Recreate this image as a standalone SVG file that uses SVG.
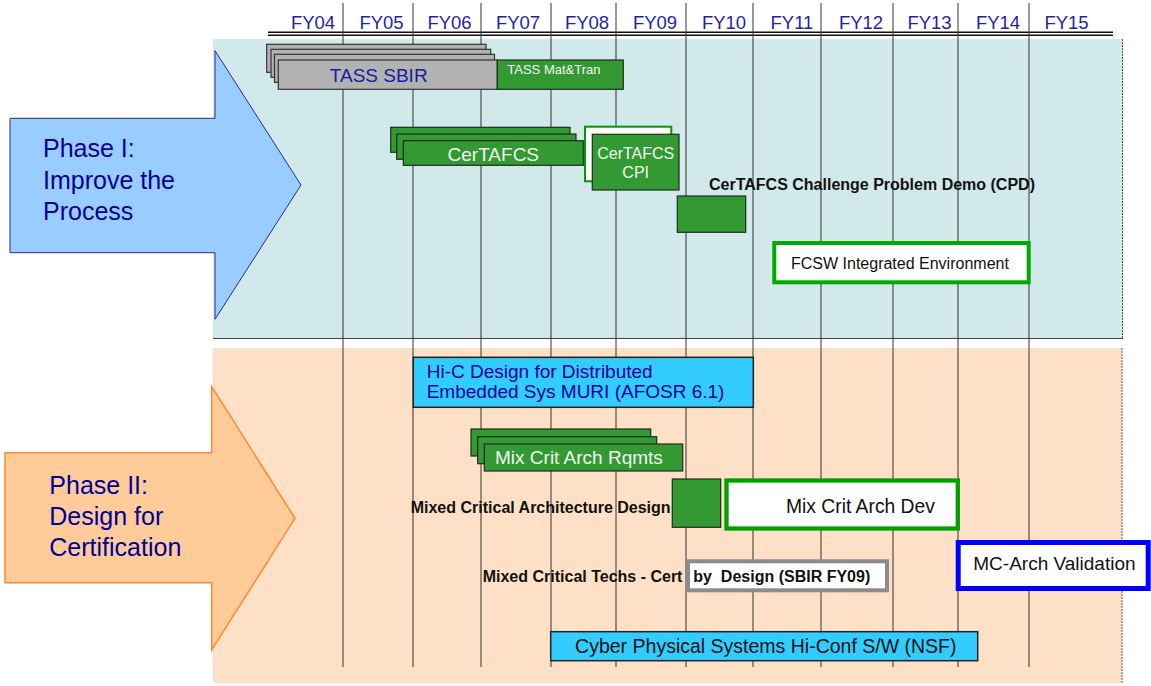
<svg xmlns="http://www.w3.org/2000/svg" width="1151" height="686" viewBox="0 0 1151 686">
<style>
text{font-family:"Liberation Sans",Arial,sans-serif}
.fy{font-size:18.5px;fill:#1F1FA8;text-anchor:middle}
.grid line{stroke:#333;stroke-width:1}
.green{fill:#339933;stroke:#1C2E1C;stroke-width:1.2}
.gray{fill:#B2B2B2;stroke:#333;stroke-width:1.2}
.cyan{fill:#33CCFF;stroke:#222;stroke-width:1.5}
.wt{fill:#F2F6F2}
.bold{font-weight:bold;font-size:16px;fill:#111}
.phase{font-size:25px;fill:#000099}
</style>
<rect x="0" y="0" width="1151" height="686" fill="#FFFFFF"/>
<g id="panels">
<rect x="213" y="39" width="910" height="300" fill="#D1E9EA"/>
<line x1="1122.5" y1="39" x2="1122.5" y2="339" stroke="#555" stroke-width="1" stroke-dasharray="2 1"/>
<line x1="213" y1="338.5" x2="1123" y2="338.5" stroke="#444" stroke-width="1"/>
<rect x="213" y="348" width="909" height="335" fill="#FDE0C5"/>
<line x1="1122" y1="348" x2="1122" y2="683" stroke="#555" stroke-width="1" stroke-dasharray="2 1"/>
</g>
<g id="header">
<line x1="268" y1="32.3" x2="1113" y2="32.3" stroke="#111" stroke-width="1.6"/>
<line x1="268" y1="35.2" x2="1113" y2="35.2" stroke="#111" stroke-width="1.4"/>
<text class="fy" x="313" y="28.5">FY04</text>
<text class="fy" x="381.5" y="28.5">FY05</text>
<text class="fy" x="449.5" y="28.5">FY06</text>
<text class="fy" x="518" y="28.5">FY07</text>
<text class="fy" x="587" y="28.5">FY08</text>
<text class="fy" x="655" y="28.5">FY09</text>
<text class="fy" x="724" y="28.5">FY10</text>
<text class="fy" x="792" y="28.5">FY11</text>
<text class="fy" x="861" y="28.5">FY12</text>
<text class="fy" x="929.5" y="28.5">FY13</text>
<text class="fy" x="998" y="28.5">FY14</text>
<text class="fy" x="1066.5" y="28.5">FY15</text>
</g>
<g class="grid" id="grid">
<line x1="343" y1="3" x2="343" y2="667"/>
<line x1="413" y1="3" x2="413" y2="667"/>
<line x1="481" y1="3" x2="481" y2="667"/>
<line x1="551" y1="3" x2="551" y2="667"/>
<line x1="616" y1="3" x2="616" y2="667"/>
<line x1="686" y1="3" x2="686" y2="667"/>
<line x1="753" y1="3" x2="753" y2="667"/>
<line x1="821" y1="3" x2="821" y2="667"/>
<line x1="893" y1="3" x2="893" y2="667"/>
<line x1="958" y1="3" x2="958" y2="667"/>
<line x1="1029" y1="3" x2="1029" y2="667"/>
</g>
<g id="connectors"></g>
<g id="phase1">
<polygon points="10,118.3 215,118.3 215,50.7 301,185 215,319.3 215,252.7 10,252.7" fill="#99CCFF" stroke="#2A2A90" stroke-width="1"/>
<text class="phase" x="43" y="157.3">Phase I:</text>
<text class="phase" x="43" y="189">Improve the</text>
<text class="phase" x="43" y="220">Process</text>
</g>
<g id="phase2">
<polygon points="5,452.7 211.7,452.7 211.7,386.7 295,518.3 211.7,650 211.7,582.7 5,582.7" fill="#FFCC99" stroke="#FF8833" stroke-width="1.5"/>
<text class="phase" x="49.3" y="494">Phase II:</text>
<text class="phase" x="49.3" y="525">Design for</text>
<text class="phase" x="49.3" y="555.7">Certification</text>
</g>
<g id="tass-sbir">
<rect class="gray" x="266.7" y="44.3" width="219.3" height="28"/>
<rect class="gray" x="271" y="49.3" width="219.7" height="28"/>
<rect class="gray" x="274.5" y="54.3" width="220" height="28"/>
<rect class="gray" x="278.3" y="60" width="219" height="29.3"/>
<text x="378.7" y="81.7" font-size="19" fill="#1A1A9A" text-anchor="middle">TASS SBIR</text>
</g>
<g id="tass-mattran">
<rect class="green" x="497.3" y="60" width="126" height="29.3"/>
<text class="wt" x="507.3" y="74" font-size="13">TASS Mat&amp;Tran</text>
</g>
<g id="certafcs">
<rect class="green" x="390.7" y="127.3" width="179.3" height="25"/>
<rect class="green" x="396.7" y="134" width="179.3" height="25.3"/>
<rect class="green" x="403.3" y="140.7" width="180" height="24.6"/>
<text class="wt" x="493.3" y="160.7" font-size="19" text-anchor="middle">CerTAFCS</text>
</g>
<g id="certafcs-cpi">
<rect x="585" y="126.7" width="86.3" height="54.6" fill="#FFFFFF" stroke="#009900" stroke-width="2"/>
<rect class="green" x="592.3" y="134.3" width="86.7" height="55.7"/>
<text class="wt" x="635.7" y="159.3" font-size="16" text-anchor="middle">CerTAFCS</text>
<text class="wt" x="635.7" y="177.7" font-size="16" text-anchor="middle">CPI</text>
</g>
<g id="cpd">
<rect class="green" x="677.3" y="196" width="68.4" height="36.3"/>
<text class="bold" x="709" y="190">CerTAFCS Challenge Problem Demo (CPD)</text>
</g>
<g id="fcsw">
<rect x="774.3" y="243" width="254.4" height="39.3" fill="#FFFFFF" stroke="#00AA00" stroke-width="4"/>
<text x="791" y="269" font-size="16" fill="#111">FCSW Integrated Environment</text>
</g>
<g id="hic-muri">
<rect class="cyan" x="413.3" y="357.3" width="340" height="50"/>
<text x="426.7" y="378.3" font-size="19" fill="#000099">Hi-C Design for Distributed</text>
<text x="426.7" y="398.3" font-size="19" fill="#000099">Embedded Sys MURI (AFOSR 6.1)</text>
</g>
<g id="mix-crit-rqmts">
<rect class="green" x="471" y="429" width="179.7" height="27"/>
<rect class="green" x="477.7" y="436.7" width="179" height="27"/>
<rect class="green" x="484.3" y="444" width="198.4" height="27"/>
<text class="wt" x="495" y="464.3" font-size="19">Mix Crit Arch Rqmts</text>
</g>
<g id="mixed-crit-arch-design">
<text class="bold" x="410.7" y="513.3">Mixed Critical Architecture Design</text>
<rect class="green" x="672.3" y="479" width="48.4" height="48.3"/>
</g>
<g id="mix-crit-arch-dev">
<rect x="726.5" y="480.5" width="231.3" height="48" fill="#FFFFFF" stroke="#00A000" stroke-width="4.3"/>
<text x="786" y="513.3" font-size="19.3" fill="#111">Mix Crit Arch Dev</text>
</g>
<g id="mc-techs-sbir">
<text class="bold" x="482.7" y="582.3">Mixed Critical Techs - Cert</text>
<rect x="688" y="561.3" width="199" height="29" fill="#FFFFFF" stroke="#8C8C8C" stroke-width="4"/>
<text class="bold" x="693.3" y="582.3" xml:space="preserve" style="white-space:pre">by  Design (SBIR FY09)</text>
</g>
<g id="mc-arch-validation">
<rect x="958.2" y="542.5" width="190" height="46" fill="#FFFFFF" stroke="#0000FF" stroke-width="5"/>
<text x="973.3" y="570.3" font-size="19" fill="#111">MC-Arch Validation</text>
</g>
<g id="cps-nsf">
<rect class="cyan" x="550.7" y="631.7" width="427" height="29"/>
<text x="765.8" y="653.3" font-size="19.5" fill="#111" text-anchor="middle">Cyber Physical Systems Hi-Conf S/W (NSF)</text>
</g>
</svg>
